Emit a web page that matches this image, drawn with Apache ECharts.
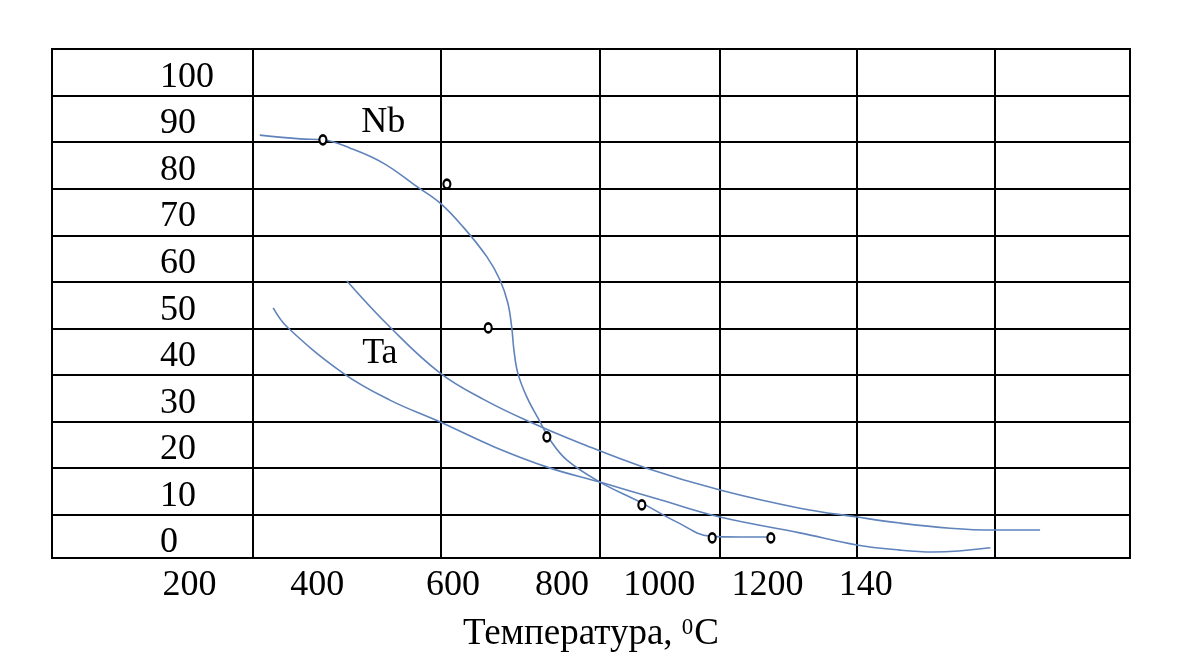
<!DOCTYPE html>
<html>
<head>
<meta charset="utf-8">
<title>Nb, Ta</title>
<script src="https://cdn.jsdelivr.net/npm/echarts@6/dist/echarts.min.js"></script>
<style>
  html, body { margin: 0; padding: 0; background: #fff; }
  #chart { width: 1200px; height: 672px; }
</style>
</head>
<body>
<div id="chart"></div>
<script>
// y tick labels sit in the middle of each table row, the row borders in between
const yTicks = [0, 10, 20, 30, 40, 50, 60, 70, 80, 90, 100];
const rowLines = [5, 15, 25, 35, 45, 55, 65, 75, 85, 95];

// x labels as printed (the last one is "140" in the original) and where they sit
const xLabels = ['200', '400', '600', '800', '1000', '1200', '140'];
const xLabelAt = [166, 395, 638, 833, 1007, 1201, 1377];
const colLines = [280, 616, 901, 1116, 1360, 1608];

// curves, [temperature, value]
const nbCurve = [
  [292, 86.5], [364, 85.7], [405, 85.5], [454, 83.7], [513, 80.5], [574, 75.4],
  [615, 71.9], [656, 66.8], [699, 60.3], [722, 55.4], [736, 50.5], [743, 45.3],
  [747, 40.4], [754, 35.4], [770, 30.3], [794, 24.9], [812, 21.0], [842, 16.7],
  [901, 12.0], [973, 7.7], [1039, 3.4], [1098, 0.4], [1152, 0.2], [1200, 0.2]
];
const taUpper = [
  [448, 55.2], [525, 45.3], [615, 35.4], [695, 29.6], [776, 24.9], [865, 20.4],
  [982, 15.1], [1116, 10.3], [1259, 6.4], [1361, 4.5], [1438, 3.2], [1528, 2.1],
  [1605, 1.7], [1689, 1.7]
];
const taLower = [
  [316, 49.4], [341, 45.3], [441, 35.4], [525, 29.6], [615, 24.9], [713, 19.5],
  [812, 15.0], [901, 12.0], [1009, 8.2], [1116, 4.5], [1259, 1.1], [1361, -1.5],
  [1438, -2.6], [1497, -3.0], [1600, -2.1]
];
// measured points
const points = [
  [405, 85.5], [627, 76.0], [701, 45.1], [806, 21.7], [976, 7.1], [1102, 0.0], [1207, 0.0]
];
const curveNames = [
  { name: 'Nb', value: [513, 89.2] },
  { name: 'Ta', value: [507, 39.6] }
];

const serif = '"Liberation Serif", "DejaVu Serif", serif';
const curveColor = '#5f83ba';

const chart = echarts.init(document.getElementById('chart'));

const curve = (name, data) => ({
  name: name,
  type: 'line',
  data: data,
  smooth: 0.4,
  symbol: 'none',
  lineStyle: { color: curveColor, width: 1.6 },
  z: 3
});

chart.setOption({
  animation: false,
  backgroundColor: '#fff',
  grid: {
    left: 52, right: 70, top: 49, bottom: 114,
    show: true, borderColor: '#000', borderWidth: 2
  },
  xAxis: {
    type: 'value',
    min: -80,
    max: 1850,
    axisLine: { show: false },
    axisTick: { show: false, customValues: colLines },
    splitLine: { show: true, lineStyle: { color: '#000', width: 2 } },
    axisLabel: {
      customValues: xLabelAt,
      formatter: v => xLabels[xLabelAt.indexOf(v)],
      margin: 10,
      color: '#000',
      fontSize: 36,
      fontFamily: serif
    },
    name: '{t|Температура, }{s|0}{t|C}',
    nameLocation: 'middle',
    nameGap: 58,
    nameTextStyle: {
      rich: {
        t: { fontSize: 37, fontFamily: serif, color: '#000' },
        s: { fontSize: 23, fontFamily: serif, color: '#000', verticalAlign: 'top', padding: [0, 1, 13, 0] }
      }
    }
  },
  yAxis: {
    type: 'value',
    min: -4.3,
    max: 105,
    axisLine: { show: false },
    axisTick: { show: false, customValues: rowLines },
    splitLine: { show: true, lineStyle: { color: '#000', width: 2 } },
    axisLabel: {
      customValues: yTicks,
      inside: true,
      align: 'left',
      margin: 108,
      formatter: v => '{n|' + v + '}',
      rich: {
        n: { fontSize: 36, fontFamily: serif, color: '#000', padding: [10, 0, 0, 0] }
      }
    }
  },
  series: [
    curve('Nb', nbCurve),
    curve('Ta upper', taUpper),
    curve('Ta lower', taLower),
    {
      name: 'points',
      type: 'scatter',
      data: points,
      symbol: 'circle',
      symbolSize: [7, 9],
      itemStyle: { color: '#fff', borderColor: '#000', borderWidth: 2.4, opacity: 1 },
      z: 4
    },
    {
      name: 'names',
      type: 'scatter',
      data: curveNames,
      symbolSize: 0,
      itemStyle: { opacity: 1 },
      label: {
        show: true,
        position: 'inside',
        formatter: p => p.name,
        color: '#000',
        opacity: 1,
        fontSize: 36,
        fontFamily: serif
      },
      z: 5
    }
  ]
});
</script>
</body>
</html>
